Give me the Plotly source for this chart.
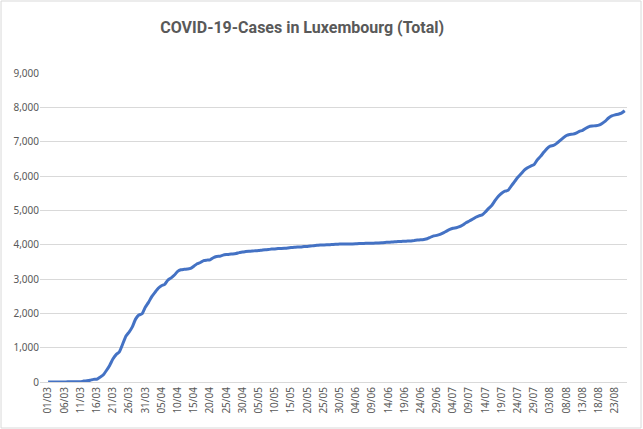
import pandas as pd
import plotly.graph_objects as go

# daily labels 01/03 .. 26/08
days = pd.date_range("2020-03-01", "2020-08-26", freq="D")
labels = [d.strftime("%d/%m") for d in days]

cases_mar = [1, 1, 1, 1, 2, 3, 4, 4, 5, 7, 7, 26, 34, 51, 77, 81, 140, 203, 335, 484,
             670, 798, 875, 1099, 1333, 1453, 1605, 1831, 1950, 1988, 2178]
cases_apr = [2319, 2487, 2612, 2729, 2804, 2843, 2970, 3034, 3115, 3223, 3270, 3281, 3292,
             3307, 3373, 3444, 3480, 3537, 3550, 3558, 3618, 3654, 3665, 3695, 3711, 3723,
             3729, 3741, 3769, 3784]
cases_may = [3802, 3811, 3812, 3824, 3828, 3840, 3851, 3859, 3871, 3877, 3886, 3888, 3894,
             3904, 3915, 3923, 3930, 3930, 3945, 3947, 3958, 3971, 3980, 3990, 3993, 3995,
             4001, 4008, 4012, 4016, 4016]
cases_jun = [4018, 4019, 4020, 4024, 4032, 4035, 4039, 4040, 4043, 4046, 4049, 4055, 4065,
             4070, 4075, 4085, 4090, 4093, 4100, 4104, 4110, 4120, 4133, 4140, 4153, 4173,
             4216, 4255, 4270, 4299]
cases_jul = [4345, 4395, 4444, 4476, 4491, 4522, 4575, 4639, 4688, 4742, 4798, 4839, 4867,
             4956, 5056, 5148, 5288, 5410, 5498, 5556, 5582, 5711, 5837, 5962, 6064, 6171,
             6240, 6290, 6330, 6470, 6572]
cases_aug = [6690, 6800, 6870, 6890, 6950, 7030, 7110, 7180, 7210, 7220, 7250, 7300, 7330,
             7390, 7440, 7455, 7465, 7480, 7530, 7600, 7690, 7750, 7780, 7800, 7830, 7900]

cases = cases_mar + cases_apr + cases_may + cases_jun + cases_jul + cases_aug

y_ticks = [0, 1000, 2000, 3000, 4000, 5000, 6000, 7000, 8000, 9000]

grey = "#595959"
grid = "#d9d9d9"

fig = go.Figure()
fig.add_trace(go.Scatter(
    x=labels,
    y=cases,
    mode="lines",
    line=dict(color="#4472C4", width=3, shape="spline", smoothing=0.4),
    hoverinfo="x+y"))

fig.update_layout(
    width=643, height=429,
    margin=dict(l=40, r=16, t=73, b=47),
    paper_bgcolor="white", plot_bgcolor="white",
    showlegend=False,
    title=dict(text="<b>COVID-19-Cases in Luxembourg (Total)</b>",
               x=0.47, xanchor="center", y=0.937, yanchor="middle",
               font=dict(family="Roboto", size=16, color=grey)),
    xaxis=dict(
        type="category",
        range=[-2.5, 178.7],
        tickvals=labels[::5],
        tickangle=-90,
        tickfont=dict(family="Noto Sans", size=10, color=grey),
        showgrid=False,
        showline=True, linecolor=grid, linewidth=1,
        ticks=""),
    yaxis=dict(
        range=[0, 9000],
        tickvals=y_ticks,
        tickformat=",",
        tickfont=dict(family="Noto Sans", size=10, color=grey),
        showgrid=True, gridcolor=grid, gridwidth=1,
        zeroline=False, showline=False, ticks=""),
    shapes=[dict(type="rect", xref="paper", yref="paper",
                 x0=-0.0664, x1=1.0239, y0=-0.1489, y1=1.233,
                 line=dict(color=grid, width=1))],
)

# drop the default page margin so the chart sits at the window corner
fig.write_html("out.html", config={"displayModeBar": False},
               post_script="document.body.style.margin='0';")
